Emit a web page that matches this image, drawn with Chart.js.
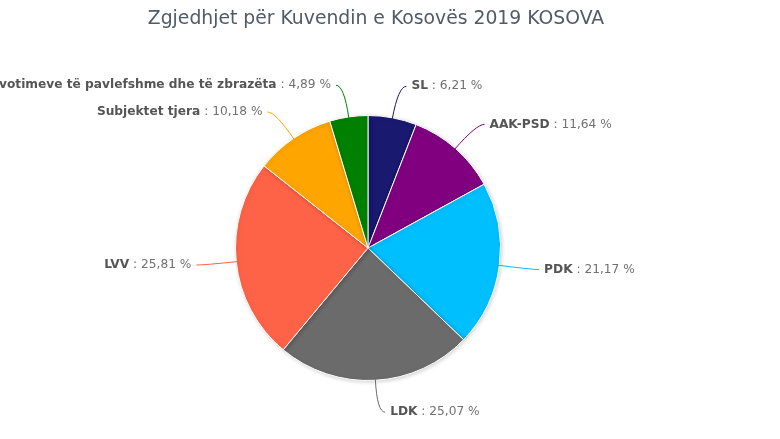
<!DOCTYPE html>
<html>
<head>
<meta charset="utf-8">
<script src="https://cdn.jsdelivr.net/npm/chart.js@4"></script>
<style>
  html, body { margin: 0; padding: 0; background: #ffffff; }
  #wrap { width: 780px; height: 439px; }
</style>
</head>
<body>
<div id="wrap"><canvas id="chart" width="780" height="439"></canvas></div>
<script>
const title = 'Zgjedhjet për Kuvendin e Kosovës 2019 KOSOVA'
const categories = ['SL', 'AAK-PSD', 'PDK', 'LDK', 'LVV', 'Subjektet tjera', 'votimeve të pavlefshme dhe të zbrazëta']
const shares = [6.21, 11.64, 21.17, 25.07, 25.81, 10.18, 4.89]
const sliceColors = ['#191970', '#800080', '#00bfff', '#6b6b6b', '#ff6347', '#ffa500', '#008000']

const fmt = (v) => v.toFixed(2).replace('.', ',') + ' %'
const labelSize = 12.2

// title plus highcharts-like outside labels with curved connectors
const decorations = {
  id: 'decorations',
  beforeDatasetsDraw(chart) {
    const ctx = chart.ctx
    ctx.save()
    ctx.fillStyle = '#4f5b69'
    ctx.font = '18.8px "DejaVu Sans", Verdana, sans-serif'
    ctx.textAlign = 'center'
    ctx.textBaseline = 'middle'
    ctx.fillText(title, 376, 19)
    ctx.restore()
    ctx.save()
    ctx.shadowColor = 'rgba(0, 0, 0, 0.18)'
    ctx.shadowBlur = 4
    ctx.shadowOffsetX = 1
    ctx.shadowOffsetY = 1
  },
  afterDatasetsDraw(chart) {
    const ctx = chart.ctx
    ctx.restore()
    const meta = chart.getDatasetMeta(0)
    ctx.save()
    meta.data.forEach((arc, i) => {
      const p = arc.getProps(['x', 'y', 'startAngle', 'endAngle', 'outerRadius'], true)
      const a = (p.startAngle + p.endAngle) / 2
      const cos = Math.cos(a), sin = Math.sin(a)
      const R = p.outerRadius + 32
      const lx = p.x + R * cos
      const ly = p.y + R * sin
      const ex = p.x + (p.outerRadius - 1) * cos
      const ey = p.y + (p.outerRadius - 1) * sin
      const right = cos >= 0
      const dir = right ? 1 : -1
      const tx = lx + dir * 13

      ctx.strokeStyle = sliceColors[i]
      ctx.lineWidth = 1
      ctx.beginPath()
      ctx.moveTo(tx - dir * 5, ly)
      ctx.quadraticCurveTo(lx, ly, ex, ey)
      ctx.stroke()

      const name = categories[i]
      const rest = ' : ' + fmt(shares[i])
      const bold = 'bold ' + labelSize + 'px "DejaVu Sans", Verdana, sans-serif'
      const normal = labelSize + 'px "DejaVu Sans", Verdana, sans-serif'
      ctx.textBaseline = 'middle'
      ctx.font = bold
      const wName = ctx.measureText(name).width
      ctx.font = normal
      const wRest = ctx.measureText(rest).width
      const x0 = right ? tx : tx - wName - wRest
      ctx.textAlign = 'left'
      ctx.font = bold
      ctx.fillStyle = '#555555'
      ctx.fillText(name, x0, ly)
      ctx.font = normal
      ctx.fillStyle = '#707070'
      ctx.fillText(rest, x0 + wName, ly)
    })
    ctx.restore()
  }
}

new Chart(document.getElementById('chart'), {
  type: 'pie',
  data: {
    labels: categories,
    datasets: [{
      data: shares,
      backgroundColor: sliceColors,
      borderColor: '#ffffff',
      borderWidth: 1
    }]
  },
  options: {
    responsive: false,
    animation: false,
    layout: { padding: { top: 115, bottom: 58, left: 235, right: 279 } },
    plugins: {
      legend: { display: false },
      tooltip: { enabled: false },
      title: { display: false }
    }
  },
  plugins: [decorations]
})
</script>
</body>
</html>
